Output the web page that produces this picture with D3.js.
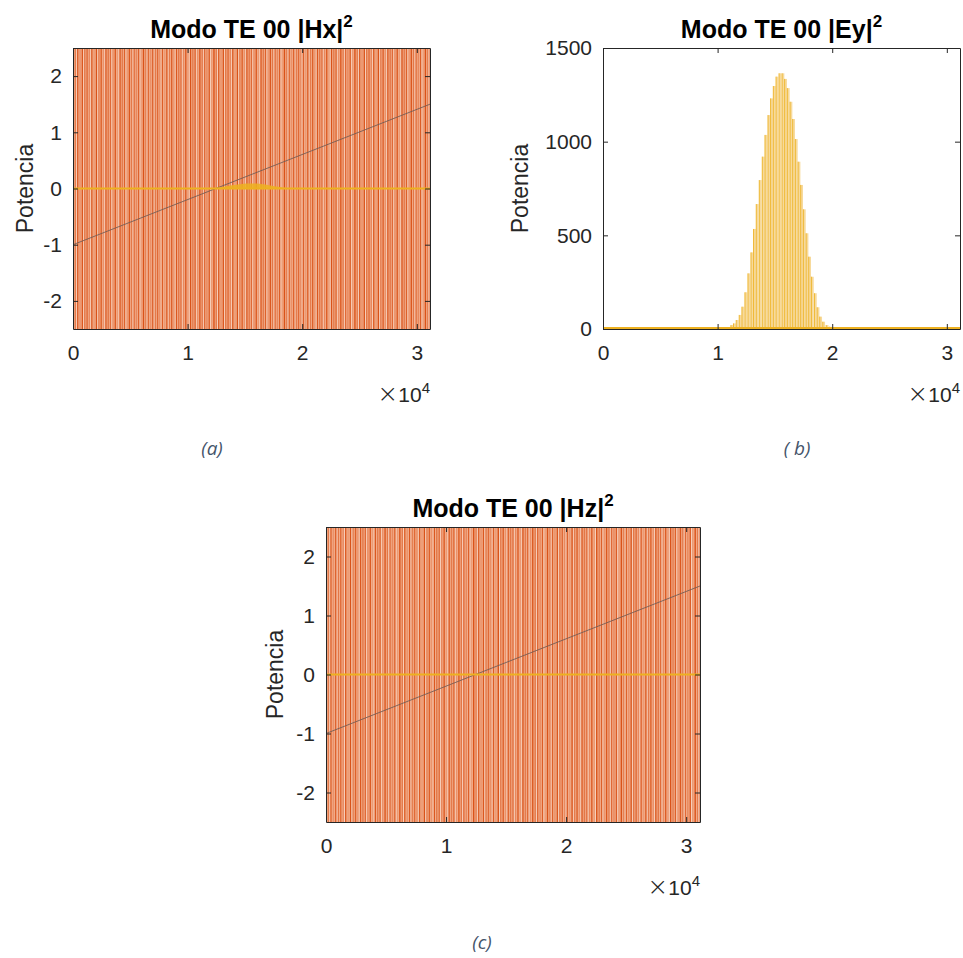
<!DOCTYPE html>
<html><head><meta charset="utf-8">
<script src="https://cdn.jsdelivr.net/npm/d3@7"></script>
<style>body{margin:0;background:#fff}svg{display:block}</style>
</head><body>
<svg id="chart" width="963" height="958"></svg>
<script>
// ---------- data ----------
const X_MAX = 31150;
const xTicks = [0, 10000, 20000, 30000];
const xTickLabels = ["0", "1", "2", "3"];
const yTicksField = [-2, -1, 0, 1, 2];
const yDomainField = [-2.5, 2.5];
const yTicksEy = [0, 500, 1000, 1500];
const yDomainEy = [0, 1500];
// |Ey|^2 peaks (x position, value)
const eyX = [10823, 11260, 11487, 11724, 11986, 12222, 12485, 12747, 13010, 13237, 13473, 13736, 13998, 14234, 14497, 14724, 14961, 15197, 15459, 15722, 15949, 16185, 16422, 16649, 16885, 17122, 17349, 17585, 17822, 18049, 18285, 18548, 18784, 19011, 19274, 19571, 19860];
const eyVals = [9, 21, 30, 48, 75, 119, 196, 297, 409, 534, 667, 795, 920, 1036, 1142, 1231, 1297, 1347, 1365, 1365, 1335, 1286, 1213, 1121, 1014, 893, 769, 639, 511, 386, 279, 191, 116, 66, 39, 21, 12];
// straight reference line in (a) and (c): start/end points
const trendX = [0, X_MAX];
const trendY = [-1, 1.5];
// yellow field magnitude bump in (a) (peak height)
const hxBumpPeak = 0.09;
// oscillating orange samples (clipped, span the full axis)
const stemStep = 205;
const stemShade = [1, 0.55, 0.85, 0.3, 0.95, 0.6, 0.75, 0.4, 0.9, 0.2];

const titles = ["Modo TE 00 |Hx|", "Modo TE 00 |Ey|", "Modo TE 00 |Hz|"];
const captions = ["(a)", "( b)", "(c)"];

// ---------- layout ----------
const panels = [
  {key:"hx", l:73, r:430, t:48, b:329, title:titles[0], cap:captions[0], capX:212, capY:455, ylabX:25},
  {key:"ey", l:603, r:960, t:48, b:329, title:titles[1], cap:captions[1], capX:797, capY:455, ylabX:520},
  {key:"hz", l:326, r:700, t:527, b:822, title:titles[2], cap:captions[2], capX:482, capY:949, ylabX:275}
];
const ORANGE = "#D95319", YELLOW = "#EDB120", AX = "#262626";
const svg = d3.select("#chart");
const defs = svg.append("defs");

panels.forEach((p, i) => {
  const x = d3.scaleLinear().domain([0, X_MAX]).range([p.l, p.r]);
  const isEy = p.key === "ey";
  const y = d3.scaleLinear().domain(isEy ? yDomainEy : yDomainField).range([p.b, p.t]);
  const g = svg.append("g");
  const clipId = "clip" + i;
  defs.append("clipPath").attr("id", clipId).append("rect")
    .attr("x", p.l).attr("y", p.t).attr("width", p.r - p.l).attr("height", p.b - p.t);
  const plot = g.append("g").attr("clip-path", `url(#${clipId})`);

  if (!isEy) {
    plot.append("rect").attr("x", p.l).attr("y", p.t).attr("width", p.r - p.l).attr("height", p.b - p.t)
      .attr("fill", "#F2AC8A");
    const stems = d3.range(0, X_MAX + stemStep, stemStep);
    plot.selectAll("line.stem").data(stems).join("line").attr("class", "stem")
      .attr("x1", d => x(d)).attr("x2", d => x(d))
      .attr("y1", y(yDomainField[0]) ).attr("y2", y(yDomainField[1]))
      .attr("stroke", ORANGE).attr("stroke-width", 1.4)
      .attr("stroke-opacity", (d, k) => stemShade[k % stemShade.length]);
    // light gaps
    plot.selectAll("line.gap").data(stems.filter((d, k) => k % 3 === 1)).join("line").attr("class", "gap")
      .attr("x1", d => x(d + stemStep / 2)).attr("x2", d => x(d + stemStep / 2))
      .attr("y1", p.b).attr("y2", p.t)
      .attr("stroke", "#FBE3D6").attr("stroke-width", 0.8).attr("stroke-opacity", 0.8);
    // trend line
    plot.append("line")
      .attr("x1", x(trendX[0])).attr("y1", y(trendY[0]))
      .attr("x2", x(trendX[1])).attr("y2", y(trendY[1]))
      .attr("stroke", "#6e5a55").attr("stroke-width", 1).attr("stroke-opacity", 0.85);
    if (p.key === "hx") {
      const maxEy = d3.max(eyVals);
      const bump = eyX.map((d, k) => [d, eyVals[k] / maxEy * hxBumpPeak]);
      plot.append("path").datum(bump)
        .attr("d", d3.area().x(d => x(d[0])).y0(y(0)).y1(d => y(d[1])).curve(d3.curveBasis))
        .attr("fill", YELLOW).attr("fill-opacity", 0.85);
    }
    plot.append("line").attr("x1", p.l).attr("x2", p.r).attr("y1", y(0)).attr("y2", y(0))
      .attr("stroke", YELLOW).attr("stroke-width", 2);
  } else {
    const bw = 2.3;
    plot.selectAll("rect.bar").data(eyX).join("rect").attr("class", "bar")
      .attr("x", d => x(d) - bw / 2).attr("width", bw)
      .attr("y", (d, k) => y(eyVals[k])).attr("height", (d, k) => y(0) - y(eyVals[k]))
      .attr("fill", "#F7DA9C");
    plot.selectAll("line.barEdge").data(eyX).join("line").attr("class", "barEdge")
      .attr("x1", d => x(d) - bw / 2).attr("x2", d => x(d) - bw / 2)
      .attr("y1", (d, k) => y(eyVals[k])).attr("y2", y(0))
      .attr("stroke", "#EDB120").attr("stroke-width", 0.9);
    plot.append("line").attr("x1", p.l).attr("x2", p.r).attr("y1", y(0) - 1).attr("y2", y(0) - 1)
      .attr("stroke", YELLOW).attr("stroke-width", 2);
  }

  // axes
  const fmtX = d => xTickLabels[xTicks.indexOf(d)];
  const xb = g.append("g").attr("transform", `translate(0,${p.b})`)
    .call(d3.axisBottom(x).tickValues(xTicks).tickFormat(fmtX).tickSizeInner(-5).tickSizeOuter(0).tickPadding(16));
  const xt = g.append("g").attr("transform", `translate(0,${p.t})`)
    .call(d3.axisTop(x).tickValues(xTicks).tickFormat("").tickSizeInner(-5).tickSizeOuter(0));
  const yl = g.append("g").attr("transform", `translate(${p.l},0)`)
    .call(d3.axisLeft(y).tickValues(isEy ? yTicksEy : yTicksField).tickSizeInner(-5).tickSizeOuter(0).tickPadding(11)
      .tickFormat(d => d < 0 ? "-" + Math.abs(d) : String(d)));
  const yr = g.append("g").attr("transform", `translate(${p.r},0)`)
    .call(d3.axisRight(y).tickValues(isEy ? yTicksEy : yTicksField).tickFormat("").tickSizeInner(-5).tickSizeOuter(0));
  [xb, xt, yl, yr].forEach(a => {
    a.selectAll("path.domain").attr("stroke", AX).attr("stroke-width", 1);
    a.selectAll(".tick line").attr("stroke", AX);
    a.selectAll("text").attr("fill", AX).style("font-family", "'Liberation Sans', Arial, sans-serif").style("font-size", "21px");
  });

  // x10^4
  const ex = g.append("text").attr("x", p.r).attr("y", p.b + 73).attr("text-anchor", "end")
    .style("font-family", "'Liberation Sans', Arial, sans-serif").style("font-size", "21px").attr("fill", AX);
  ex.append("tspan").style("font-size", "25px").style("font-family", "'DejaVu Sans', sans-serif").style("font-weight", "200").text("\u00d7");
  ex.append("tspan").text("10");
  ex.append("tspan").attr("dy", -9).style("font-size", "15px").text("4");

  // title
  const tt = g.append("text").attr("x", (p.l + p.r) / 2).attr("y", p.t - 10).attr("text-anchor", "middle")
    .style("font-family", "'Liberation Sans', Arial, sans-serif").style("font-size", "25px").style("font-weight", "bold").attr("fill", "#000");
  tt.append("tspan").text(p.title);
  tt.append("tspan").attr("dy", -11).style("font-size", "17px").text("2");

  // y label
  g.append("text").attr("transform", `translate(${p.ylabX},${(p.t + p.b) / 2}) rotate(-90)`)
    .attr("text-anchor", "middle").attr("dy", "0.35em")
    .style("font-family", "'Liberation Sans', Arial, sans-serif").style("font-size", "23px").attr("fill", AX)
    .text("Potencia");

  // caption
  g.append("text").attr("x", p.capX).attr("y", p.capY).attr("text-anchor", "middle")
    .style("font-family", "'Open Sans', 'Liberation Sans', sans-serif").style("font-size", "19px").style("font-style", "italic")
    .attr("fill", "#44546A").text(p.cap);
});
</script>
</body></html>
